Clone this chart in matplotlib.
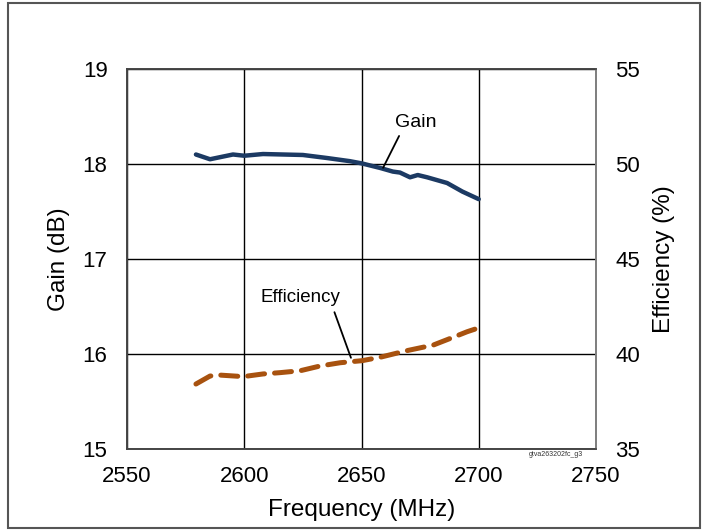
import numpy as np
from matplotlib import pyplot as plt
from matplotlib.patches import Rectangle

plt.rcParams['font.family'] = ['Liberation Sans', 'DejaVu Sans']

gain_freq = [2579.4, 2585.4, 2595.2, 2600, 2608, 2625, 2635.3, 2645, 2650, 2658,
             2663.4, 2666.4, 2670.7, 2674, 2678, 2686.5, 2693, 2700]
gain_db = [18.10, 18.05, 18.10, 18.087, 18.105, 18.095, 18.063, 18.03, 18.007, 17.958,
           17.92, 17.91, 17.86, 17.884, 17.86, 17.80, 17.71, 17.63]

eff_freq = [2579.4, 2585.4, 2589.6, 2599.6, 2608, 2615.4, 2623.9, 2632.4, 2640.9, 2650.3,
            2658, 2669.5, 2680.6, 2689.1, 2695, 2700.6]
eff_pct = [38.42, 38.84, 38.89, 38.81, 38.95, 39.02, 39.12, 39.37, 39.54, 39.65,
           39.83, 40.18, 40.47, 40.88, 41.17, 41.40]

x_ticks = [2550, 2600, 2650, 2700, 2750]
gain_ticks = [15, 16, 17, 18, 19]
eff_ticks = [35, 40, 45, 50, 55]

fig = plt.figure(figsize=(7.04, 5.31), dpi=100)
ax = fig.add_axes([127/704, 1-449/531, (596-127)/704, (449-69)/531])
ax2 = ax.twinx()

ax.set_xlim(2550, 2750)
ax.set_ylim(15, 19)
ax2.set_ylim(35, 55)
ax.set_xticks(x_ticks)
ax.set_yticks(gain_ticks)
ax2.set_yticks(eff_ticks)
ax.grid(True, color='black', linewidth=1.0)
ax.set_axisbelow(True)

ax.plot(gain_freq, gain_db, color='#1c3a63', linewidth=3.2, solid_capstyle='round', zorder=3)
ax2.plot(eff_freq, eff_pct, color='#a8520f', linewidth=3.6, dashes=(3.4, 2.0),
         dash_capstyle='round', zorder=3)

for a in (ax, ax2):
    a.tick_params(length=0, labelsize=16, pad=14)
    for s in a.spines.values():
        s.set_color('#444444')
        s.set_linewidth(1.2)
ax.tick_params(axis='x', pad=12)
ax2.spines['right'].set_color('#888888')

ax.set_xlabel('Frequency (MHz)', fontsize=17.5, labelpad=9)
ax.set_ylabel('Gain (dB)', fontsize=17.5, labelpad=9)
ax2.set_ylabel('Efficiency (%)', fontsize=17.5, labelpad=9)

ax.annotate('Gain', xy=(2659.2, 17.96), xytext=(2673, 18.44), fontsize=14,
            ha='center', va='center',
            arrowprops=dict(arrowstyle='-', color='black', lw=1.3, relpos=(0.17, 0),
                            shrinkA=2, shrinkB=0))
ax2.annotate('Efficiency', xy=(2645.5, 39.8), xytext=(2623.8, 43.0), fontsize=13.5,
             ha='center', va='center',
             arrowprops=dict(arrowstyle='-', color='black', lw=1.3, relpos=(0.9, 0),
                             shrinkA=3, shrinkB=0))

fig.text(556/704, 1-454/531, 'gtva263202fc_g3', fontsize=5, ha='center', va='center',
         color='#333333')

fig.patches.append(Rectangle((8/704, 3/531), 692/704, 525/531, transform=fig.transFigure,
                             fill=False, edgecolor='#555555', linewidth=1.5))

fig.savefig('out.png', dpi=100)
